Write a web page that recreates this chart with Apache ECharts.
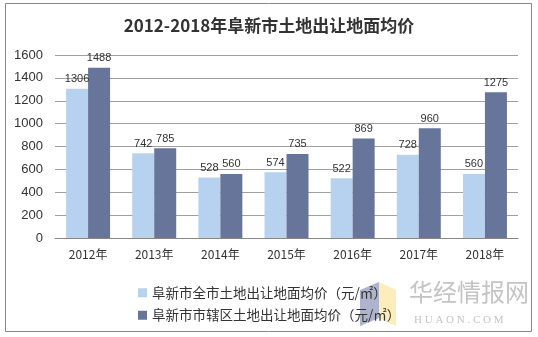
<!DOCTYPE html>
<html><head><meta charset="utf-8">
<script src="https://cdn.jsdelivr.net/npm/echarts@6/dist/echarts.min.js"></script>
<style>html,body{margin:0;padding:0;background:#fff}#c{width:538px;height:337px}</style>
</head><body><div id="c"></div>
<script>
const categories = ['2012年','2013年','2014年','2015年','2016年','2017年','2018年'];
const cityAll = [1306,742,528,574,522,728,560];
const cityDistrict = [1488,785,560,735,869,960,1275];
const yTicks = [0,200,400,600,800,1000,1200,1400,1600];
const seriesNames = ['阜新市全市土地出让地面均价（元/㎡）','阜新市市辖区土地出让地面均价（元/㎡）'];

const font = '"Noto Sans CJK SC", "Liberation Sans", sans-serif';
const chart = echarts.init(document.getElementById('c'));
chart.setOption({
  animation:false,
  title:{text:'2012-2018年阜新市土地出让地面均价',left:'center',top:12,
    textStyle:{fontFamily:font,fontSize:17,fontWeight:'bold',color:'#333'}},
  grid:{left:55,right:20,top:55,bottom:99},
  legend:{orient:'vertical',left:133,top:281,itemWidth:9,itemHeight:9,itemGap:9,
    textStyle:{fontFamily:font,fontSize:13.5,color:'#333'},icon:'rect'},
  xAxis:{type:'category',data:categories,
    axisLine:{lineStyle:{color:'#888'}},axisTick:{show:false},
    axisLabel:{fontFamily:font,fontSize:12,color:'#333',margin:10}},
  yAxis:{type:'value',min:0,max:1600,interval:200,
    axisLine:{show:false},axisTick:{show:false},
    splitLine:{lineStyle:{color:'#a0a0a0'}},
    axisLabel:{fontFamily:'"Liberation Sans", Arial, sans-serif',fontSize:13,color:'#333',margin:12,
      formatter:v=>yTicks.includes(v)?String(v):''}},
  series:[
    {name:seriesNames[0],type:'bar',data:cityAll,barWidth:22,barGap:'0%',
     itemStyle:{color:'#b7d2ef'},
     label:{show:true,position:'top',fontFamily:'"Liberation Sans", Arial, sans-serif',fontSize:11,color:'#333',distance:4}},
    {name:seriesNames[1],type:'bar',data:cityDistrict,barWidth:22,
     itemStyle:{color:'#68759b'},
     label:{show:true,position:'top',fontFamily:'"Liberation Sans", Arial, sans-serif',fontSize:11,color:'#333',distance:4}}
  ],
  graphic:[
    {type:'rect',shape:{x:5.5,y:3.5,width:526,height:328},style:{fill:'none',stroke:'#888',lineWidth:1},silent:true,z:-1},
    {type:'polygon',shape:{points:[[360,290],[379,282],[379,318],[360,326]]},style:{fill:'rgba(120,130,170,0.6)'}},
    {type:'polygon',shape:{points:[[379,282],[396,290],[396,326],[379,318]]},style:{fill:'rgba(250,225,140,0.6)'}},
    {type:'text',left:409,top:280,style:{text:'华经情报网',font:'24px "Noto Sans CJK SC"',fill:'#c4c4c4'}},
    {type:'text',left:414,top:315,style:{text:'H U A O N . C O M',font:'11px "Liberation Serif"',fill:'#c4c4c4'}}
  ]
});
</script></body></html>
